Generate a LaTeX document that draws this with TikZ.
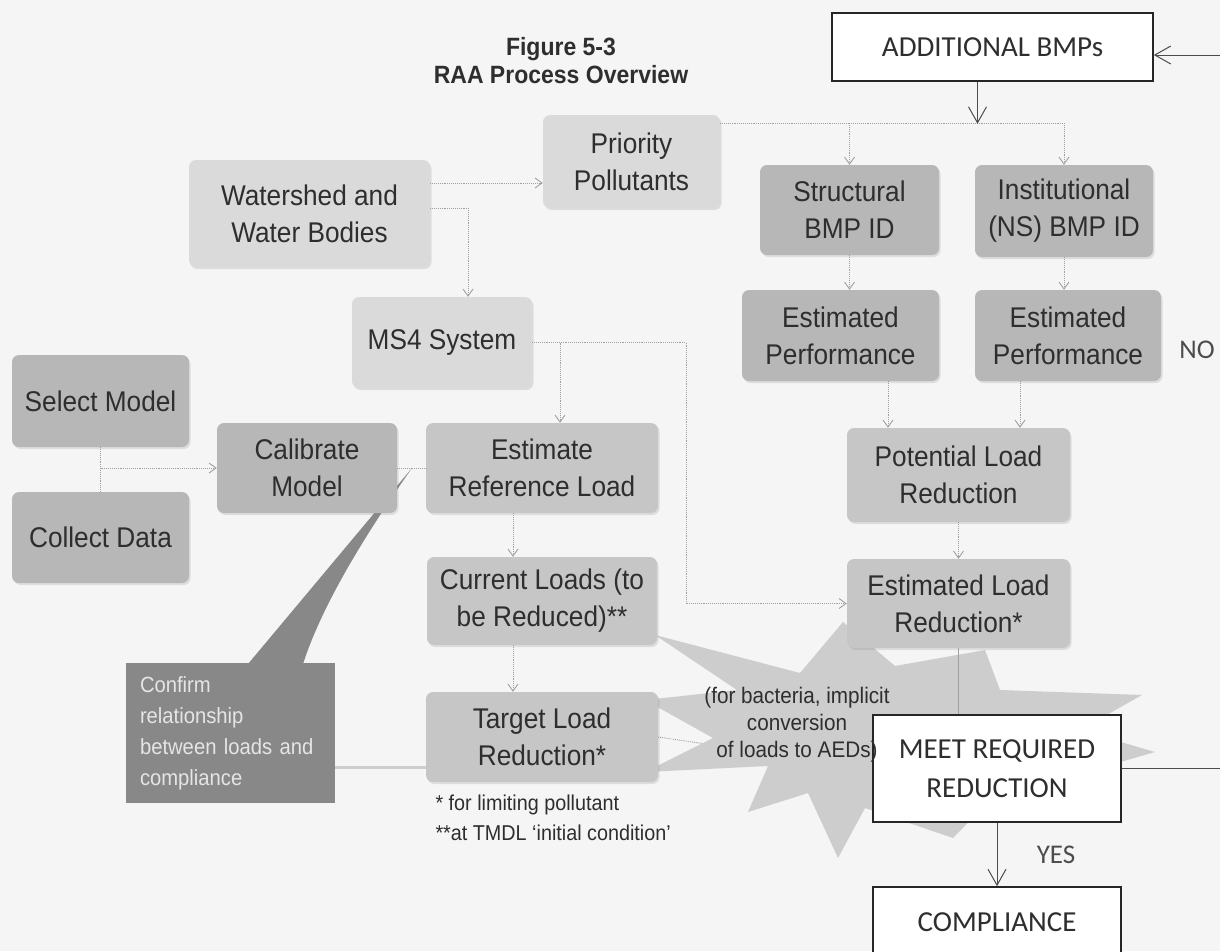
\documentclass[tikz,border=0pt]{standalone}
\usepackage{fontspec}
\setmainfont{Liberation Sans}[FakeStretch=0.92]
\newfontfamily\capfont{Carlito}
\usepackage{xcolor}
\usepackage{tikz}
\usetikzlibrary{arrows.meta,positioning,calc,shadows}

\definecolor{paper}{HTML}{F5F5F5}
\definecolor{boxlight}{HTML}{DADADA}
\definecolor{boxmid}{HTML}{C6C6C6}
\definecolor{boxdark}{HTML}{B7B7B7}
\definecolor{calloutgray}{HTML}{888888}
\definecolor{burstgray}{HTML}{CDCDCD}
\definecolor{inkgray}{HTML}{2E2E2E}
\definecolor{linegray}{HTML}{A0A0A0}

\pgfdeclarelayer{back}
\pgfdeclarelayer{burst}
\pgfsetlayers{back,burst,main}

\begin{document}
\begin{tikzpicture}[x=1pt, y=-1pt, >={Straight Barb[length=7pt,width=10pt]},
  box/.style={rounded corners=7pt, text=inkgray, align=center, inner sep=2pt,
    font=\fontsize{28.5}{37}\selectfont,
    drop shadow={shadow xshift=1.5pt, shadow yshift=-2pt, opacity=0.2}},
  lightbox/.style={box, fill=boxlight},
  midbox/.style={box, fill=boxmid},
  darkbox/.style={box, fill=boxdark},
  capbox/.style={draw=black!85, line width=1.6pt, fill=white, text=inkgray,
    font=\capfont\fontsize{29}{39}\selectfont, align=center},
  conn/.style={linegray, line width=0.9pt, densely dotted},
  bigarrow/.style={black!70, line width=1pt, -{Straight Barb[length=16pt,width=18pt]}},
  answer/.style={text=black!70, font=\capfont\fontsize{27}{30}\selectfont}
]
  \useasboundingbox (0,0) rectangle (1220,951);
  \begin{pgfonlayer}{back}
    \fill[paper] (0,0) rectangle (1220,951);
  \end{pgfonlayer}

  % Title
  \node[text=inkgray, font=\bfseries\fontsize{25}{28}\selectfont, align=center] (title) at (561,61)
    {Figure 5-3\\RAA Process Overview};

  % Watershed side
  \node[lightbox, minimum width=241pt, minimum height=107pt] (watershed) at (309.5,213.5) {Watershed and\\Water Bodies};
  \node[lightbox, minimum width=177pt, minimum height=93pt] (priority) at (631.5,161.5) {Priority\\Pollutants};
  \node[lightbox, minimum width=180pt, minimum height=91pt] (ms4) at (442,342.5) {MS4 System};

  % Model chain
  \node[darkbox, minimum width=177pt, minimum height=92pt] (selectmodel) at (100.5,401) {Select Model};
  \node[darkbox, minimum width=177pt, minimum height=91pt] (collectdata) at (100.5,537.5) {Collect Data};
  \node[darkbox, minimum width=180pt, minimum height=90pt] (calibrate) at (307,468) {Calibrate\\Model};
  \node[midbox, minimum width=232pt, minimum height=90pt] (estref) at (542,468) {Estimate\\Reference Load};
  \node[midbox, minimum width=230pt, minimum height=88pt] (current) at (542,601) {Current Loads (to\\be Reduced)**};
  \node[midbox, minimum width=232pt, minimum height=90pt] (target) at (542,737) {Target Load\\Reduction*};

  % BMP branch
  \node[darkbox, minimum width=179pt, minimum height=90pt] (structural) at (849.5,210) {Structural\\BMP ID};
  \node[darkbox, minimum width=178pt, minimum height=92pt] (institutional) at (1064,211) {Institutional\\(NS) BMP ID};
  \node[darkbox, minimum width=197pt, minimum height=91pt] (estperfA) at (840.5,335.5) {Estimated\\Performance};
  \node[darkbox, minimum width=186pt, minimum height=91pt] (estperfB) at (1068,335.5) {Estimated\\Performance};
  \node[midbox, minimum width=223pt, minimum height=94pt] (potential) at (958.5,475) {Potential Load\\Reduction};
  \node[midbox, minimum width=223pt, minimum height=89pt] (estload) at (958.5,603.5) {Estimated Load\\Reduction*};

  % Decision boxes
  \node[capbox, minimum width=321pt, minimum height=68pt] (additional) at (992.5,47) {ADDITIONAL BMPs};
  \node[capbox, minimum width=248pt, minimum height=107pt] (meet) at (997,768.5) {MEET REQUIRED\\REDUCTION};
  \node[capbox, minimum width=248pt, minimum height=70pt] (compliance) at (997,922) {COMPLIANCE};

  % Callout
  \node[fill=calloutgray, text=white!90!black, minimum width=209pt, minimum height=140pt,
    text width=181pt, inner xsep=14pt, align=left, font=\fontsize{22}{31}\selectfont] (confirm) at (230.5,733)
    {Confirm\\relationship\\between loads and\\compliance};
  \begin{pgfonlayer}{burst}
    \fill[calloutgray] (248,664) -- (412,468) .. controls (365,535) and (322,605) .. (303,664) -- cycle;
    % explosion behind the reduction boxes
    \fill[burstgray] (655,635) -- (737,690) -- (645,700) -- (713,738) -- (645,772) -- (768,766)
      -- (748,812) -- (808,793) -- (838,858) -- (865,808) -- (953,838) -- (990,800)
      -- (1155,752) -- (1080,730) -- (1142,695) -- (1000,690) -- (985,650) -- (895,666)
      -- (843,622) -- (800,673) -- cycle;
  \end{pgfonlayer}
  \node[text=inkgray, align=center, font=\fontsize{22.5}{27}\selectfont] (bacteria) at (797,725)
    {(for bacteria, implicit\\conversion\\of loads to AEDs)};

  % Footnotes
  \node[anchor=west, text=inkgray, align=left, font=\fontsize{21.5}{30}\selectfont] (notes) at (432,818)
    {* for limiting pollutant\\**at TMDL `initial condition'};

  % Connectors
  \draw[conn,->] (watershed.east |- 0,183) -- (priority.west |- 0,183);
  \draw[conn,->] (watershed.east |- 0,208) -| ([xshift=26pt]ms4.north);
  \draw[conn,->] (priority.east |- 0,123) -| (institutional.north);
  \draw[conn,->] (structural.north |- 0,123) -- (structural.north);
  \draw[conn,->] (structural.south) -- (structural.south |- estperfA.north);
  \draw[conn,->] (institutional.south) -- (institutional.south |- estperfB.north);
  \foreach \x in {888,1020}
    \draw[conn,->] (\x,0 |- estperfA.south) -- (\x,0 |- potential.north);
  \draw[conn,->] (potential.south) -- (estload.north);
  \draw[conn,->] (ms4.east) -| (686,0 |- estload.west) -- (estload.west);
  \draw[conn,->] (560,0 |- ms4.east) -- (560,0 |- estref.north);
  \draw[conn] (selectmodel.south) -- (collectdata.north);
  \draw[conn,->] (selectmodel.south |- calibrate.west) -- (calibrate.west);
  \draw[conn] (calibrate.east) -- (estref.west);
  \draw[conn,->] (513,0 |- estref.south) -- (513,0 |- current.north);
  \draw[conn,->] (513,0 |- current.south) -- (513,0 |- target.north);
  \draw[boxlight!85!gray, line width=3pt] (confirm.east |- 0,767) -- (target.west |- 0,767);
  \begin{pgfonlayer}{back}
    \draw[conn] (target.east) -- (meet.west);
  \end{pgfonlayer}
  \draw[linegray, line width=0.9pt] (estload.south) -- (estload.south |- meet.north);

  % Decision loop
  \draw[bigarrow] ([xshift=-15pt]additional.south) -- ++(0,42);
  \draw[bigarrow] (meet.south) -- (compliance.north);
  \draw[bigarrow] (meet.east) -- ++(140,0) |- ([yshift=-8pt]additional.east);
  \node[answer] (yes) at (1056,855) {YES};
  \node[answer] (no) at (1197,350) {NO};
\end{tikzpicture}
\end{document}
